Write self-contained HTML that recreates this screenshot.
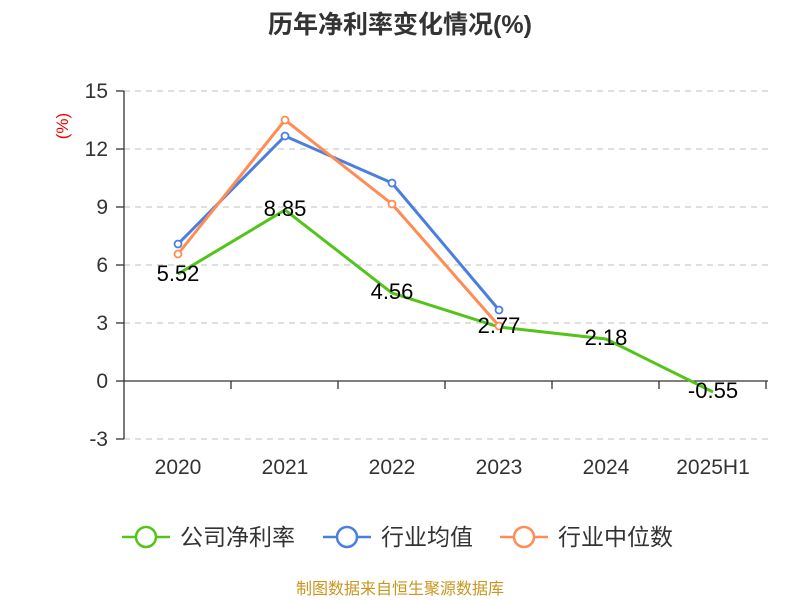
<!DOCTYPE html>
<html><head><meta charset="utf-8"><style>body{margin:0;background:#fff}svg{display:block}</style></head>
<body>
<svg width="800" height="600" xmlns="http://www.w3.org/2000/svg" font-family="Liberation Sans, Noto Sans CJK SC, sans-serif">
<text x="400" y="33" text-anchor="middle" font-size="25" font-weight="bold" fill="#333">历年净利率变化情况(%)</text>
<text x="68" y="126" font-size="17" fill="#e00" transform="rotate(-90 68 126)" text-anchor="middle">(%)</text>
<g stroke="#ccc" stroke-dasharray="6,5" stroke-width="1.2">
<line x1="124" y1="91" x2="768" y2="91"/><line x1="124" y1="149" x2="768" y2="149"/>
<line x1="124" y1="207" x2="768" y2="207"/><line x1="124" y1="265" x2="768" y2="265"/>
<line x1="124" y1="323" x2="768" y2="323"/><line x1="124" y1="439" x2="768" y2="439"/>
</g>
<g stroke="#333" stroke-width="1.3">
<line x1="124" y1="91" x2="124" y2="439"/>
<line x1="124" y1="381" x2="768" y2="381"/>
<line x1="116" y1="91" x2="124" y2="91"/><line x1="116" y1="149" x2="124" y2="149"/>
<line x1="116" y1="207" x2="124" y2="207"/><line x1="116" y1="265" x2="124" y2="265"/>
<line x1="116" y1="323" x2="124" y2="323"/><line x1="116" y1="381" x2="124" y2="381"/>
<line x1="116" y1="439" x2="124" y2="439"/>
<line x1="231" y1="381" x2="231" y2="389"/><line x1="338" y1="381" x2="338" y2="389"/>
<line x1="445" y1="381" x2="445" y2="389"/><line x1="552" y1="381" x2="552" y2="389"/>
<line x1="659" y1="381" x2="659" y2="389"/><line x1="766" y1="381" x2="766" y2="389"/>
</g>
<g font-size="21" fill="#333" text-anchor="end">
<text x="108" y="98">15</text><text x="108" y="156">12</text><text x="108" y="214">9</text>
<text x="108" y="272">6</text><text x="108" y="330">3</text><text x="108" y="388">0</text><text x="108" y="446">-3</text>
</g>
<g font-size="21" fill="#333" text-anchor="middle">
<text x="178" y="474">2020</text><text x="285" y="474">2021</text><text x="392" y="474">2022</text>
<text x="499" y="474">2023</text><text x="606" y="474">2024</text><text x="713" y="474">2025H1</text>
</g>
<polyline fill="none" stroke="#52c41a" stroke-width="3" points="178,274 285,210 392,293 499,327 606,339 713,392"/>
<polyline fill="none" stroke="#4a7fe0" stroke-width="3" points="178,244 285,136 392,183 499,310"/>
<polyline fill="none" stroke="#ff8c55" stroke-width="3" points="178,254 285,120 392,204 499,326"/>
<g fill="#fff" stroke-width="1.8">
<g stroke="#4a7fe0"><circle cx="178" cy="244" r="3.5"/><circle cx="285" cy="136" r="3.5"/><circle cx="392" cy="183" r="3.5"/><circle cx="499" cy="310" r="3.5"/></g>
<g stroke="#ff8c55"><circle cx="178" cy="254" r="3.5"/><circle cx="285" cy="120" r="3.5"/><circle cx="392" cy="204" r="3.5"/><circle cx="499" cy="326" r="3.5"/></g>
</g>
<g font-size="22" fill="#000" text-anchor="middle">
<text x="178" y="281">5.52</text><text x="285" y="216">8.85</text><text x="392" y="299">4.56</text>
<text x="499" y="333">2.77</text><text x="606" y="345">2.18</text><text x="713" y="398">-0.55</text>
</g>
<g stroke-width="2.5" fill="#fff">
<line x1="122" y1="537" x2="170" y2="537" stroke="#52c41a"/><circle cx="146" cy="537" r="10" stroke="#52c41a"/>
<line x1="323" y1="537" x2="371" y2="537" stroke="#4a7fe0"/><circle cx="347" cy="537" r="10" stroke="#4a7fe0"/>
<line x1="500" y1="537" x2="548" y2="537" stroke="#ff8c55"/><circle cx="524" cy="537" r="10" stroke="#ff8c55"/>
</g>
<g font-size="23" fill="#333">
<text x="180" y="545">公司净利率</text><text x="381" y="545">行业均值</text><text x="558" y="545">行业中位数</text>
</g>
<text x="400" y="594" text-anchor="middle" font-size="16" fill="#c8961e">制图数据来自恒生聚源数据库</text>
</svg>
</body></html>
